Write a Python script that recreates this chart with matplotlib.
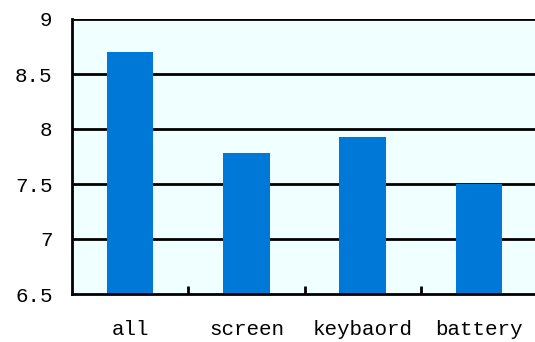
import matplotlib
matplotlib.use("Agg")
import matplotlib.pyplot as plt
import numpy as np

categories = ["all", "screen", "keybaord", "battery"]
values = [8.70, 7.78, 7.93, 7.50]
yticks = [6.5, 7, 7.5, 8, 8.5, 9]
ytick_labels = ["6.5", "7", "7.5", "8", "8.5", "9"]

plt.rcParams['font.family'] = ['Liberation Mono', 'DejaVu Sans']

fig = plt.figure(figsize=(5.35, 3.42), dpi=100)
ax = fig.add_axes([72/535, 48/342, 465/535, 275/342])
ax.set_facecolor("#F0FFFF")

x = np.arange(len(categories))
ax.bar(x, values, width=0.40, color="#0078D7", zorder=3, bottom=0)
ax.set_ylim(6.5, 9)
ax.set_xlim(-0.5, len(categories) - 0.5)

for y in yticks[1:]:
    ax.axhline(y, color="black", lw=2, zorder=2)

ax.set_yticks(yticks)
ax.set_yticklabels(ytick_labels, fontsize=15)
ax.tick_params(axis='y', length=0, pad=14)

ax.set_xticks(x)
ax.set_xticklabels(categories, fontsize=15)
ax.tick_params(axis='x', length=0, pad=19)
ax.set_xticks(np.arange(len(categories) - 1) + 0.5, minor=True)
ax.tick_params(axis='x', which='minor', direction='in', length=6, width=2, color='black')

for s in ["top", "right"]:
    ax.spines[s].set_visible(False)
for s in ["left", "bottom"]:
    ax.spines[s].set_linewidth(2)
    ax.spines[s].set_color("black")
    ax.spines[s].set_zorder(4)

fig.savefig("out.png", dpi=100)
